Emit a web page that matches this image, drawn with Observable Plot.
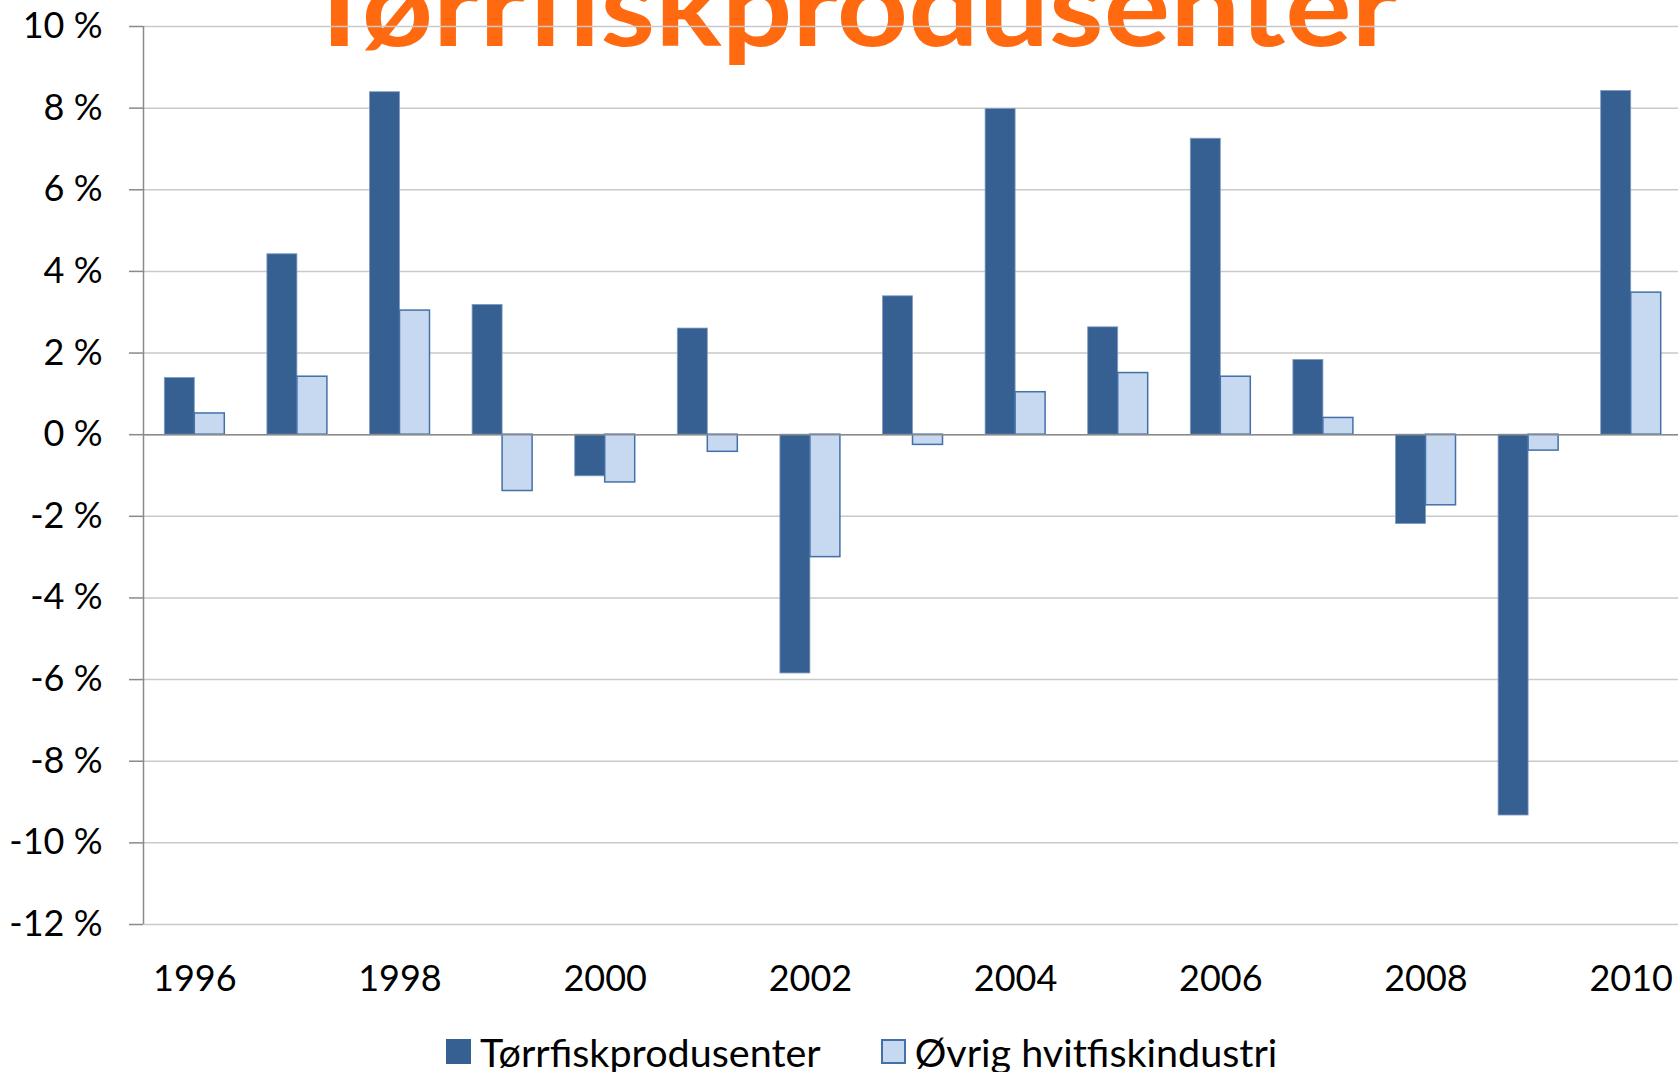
<!DOCTYPE html>
<html>
<head>
<meta charset="utf-8">
<script src="https://cdn.jsdelivr.net/npm/d3@7"></script>
<script src="https://cdn.jsdelivr.net/npm/@observablehq/plot@0.6"></script>
<style>
  html, body { margin: 0; padding: 0; background: #fff; width: 1678px; height: 1072px; overflow: hidden; }
  #wrap { position: relative; width: 1678px; height: 1072px; }
  #title { position: absolute; left: 0; top: 0; }
  #chart { position: absolute; left: 0; top: 0; }
  #legend { position: absolute; left: 446px; top: 1030px; height: 42px; display: flex; align-items: center;
            font-family: Lato, "Open Sans", sans-serif; font-size: 39.5px; color: #000; white-space: nowrap; }
  .sw { width: 25px; height: 25px; box-sizing: border-box; margin-right: 9px; }
  .item { display: flex; align-items: center; }
</style>
</head>
<body>
<div id="wrap">
  <svg id="title" width="1678" height="90"></svg>
  <div id="chart"></div>
  <div id="legend"></div>
</div>
<script>
// ---- data ----
const titleText = "Tørrfiskprodusenter";
const years = [1996, 1997, 1998, 1999, 2000, 2001, 2002, 2003, 2004, 2005, 2006, 2007, 2008, 2009, 2010];
const seriesNames = ["Tørrfiskprodusenter", "Øvrig hvitfiskindustri"];
const torrfisk = [1.39, 4.42, 8.39, 3.18, -1.02, 2.60, -5.85, 3.39, 7.98, 2.63, 7.25, 1.83, -2.19, -9.33, 8.42];
const ovrig    = [0.52, 1.42, 3.04, -1.38, -1.17, -0.42, -3.00, -0.25, 1.04, 1.51, 1.42, 0.41, -1.73, -0.39, 3.48];
const yTicks = [-12, -10, -8, -6, -4, -2, 0, 2, 4, 6, 8, 10];
const xTicks = [1996, 1998, 2000, 2002, 2004, 2006, 2008, 2010];

const colors = { dark: "#376092", darkEdge: "#7f9bc2", light: "#C6D9F1", lightEdge: "#4470a8" };
const font = 'Lato, "Open Sans", sans-serif';

// ---- title (behind chart, partially cut off at top like the reference) ----
const tsvg = d3.select("#title");
tsvg.append("text")
  .attr("x", 302).attr("y", 46)
  .attr("textLength", 1096).attr("lengthAdjust", "spacingAndGlyphs")
  .attr("font-family", font).attr("font-weight", 700).attr("font-size", 112)
  .attr("fill", "#FF6A10")
  .text(titleText);

// ---- chart ----
const rowsA = years.map((yr, i) => ({ year: yr, series: seriesNames[0], value: torrfisk[i] }));
const rowsB = years.map((yr, i) => ({ year: yr, series: seriesNames[1], value: ovrig[i] }));

const W = 1678, ML = 143, MR = -4;
const band = (W - ML - MR) / years.length;
const barW = 30;
const inset = (band - barW) / 2;

const chart = Plot.plot({
  width: W,
  height: 1010,
  marginTop: 26,
  marginBottom: 86,
  marginLeft: ML,
  marginRight: MR,
  style: { background: "transparent", fontFamily: font, fontSize: "36px", color: "#000", overflow: "visible" },
  x: { type: "band", domain: years, padding: 0, round: false, label: null },
  y: { domain: [-12, 10], label: null },
  marks: [
    Plot.gridY(yTicks, { stroke: "#c9c9c9", strokeOpacity: 1, strokeWidth: 1.5 }),
    Plot.barY(rowsA, { x: "year", y1: 0, y2: "value", fill: colors.dark, stroke: colors.darkEdge, strokeWidth: 0.8,
                       insetLeft: inset, insetRight: inset, dx: -barW / 2 }),
    Plot.barY(rowsB, { x: "year", y1: 0, y2: "value", fill: colors.light, stroke: colors.lightEdge, strokeWidth: 1.5,
                       insetLeft: inset, insetRight: inset, dx: barW / 2 }),
    Plot.ruleY([0], { stroke: "#8a8a8a", strokeWidth: 1.5 }),
    Plot.ruleX([years[0]], { dx: -band / 2, y1: yTicks[0], y2: yTicks[yTicks.length - 1], stroke: "#8a8a8a", strokeWidth: 1.5 }),
    Plot.axisY({ ticks: yTicks, tickSize: 14, tickPadding: 27, tickFormat: d => `${d} %`, label: null,
                 stroke: "#8a8a8a", strokeWidth: 1.5, fontSize: 36 }),
    Plot.axisX({ ticks: xTicks, tickSize: 0, tickPadding: 41, fontSize: 36, label: null, tickFormat: d => `${d}` })
  ]
});
document.getElementById("chart").appendChild(chart);

// ---- legend ----
const leg = d3.select("#legend");
const items = [
  { name: seriesNames[0], fill: colors.dark, border: colors.dark },
  { name: seriesNames[1], fill: colors.light, border: colors.lightEdge }
];
items.forEach((it, i) => {
  const d = leg.append("div").attr("class", "item").style("margin-right", i === 0 ? "60px" : "0");
  d.append("div").attr("class", "sw").style("background", it.fill).style("border", `2px solid ${it.border}`);
  d.append("span").text(it.name);
});
</script>
</body>
</html>
